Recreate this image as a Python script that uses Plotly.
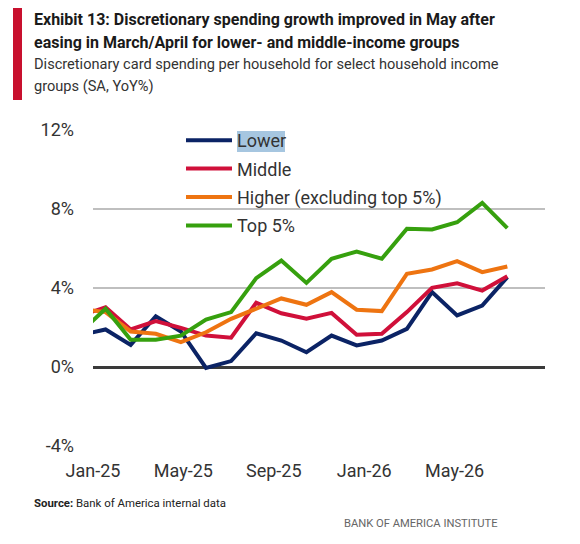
import plotly.graph_objects as go

# monthly YoY % (SA); Dec-24 is only partly visible at the left edge
months = ["Dec-24", "Jan-25", "Feb-25", "Mar-25", "Apr-25", "May-25", "Jun-25",
          "Jul-25", "Aug-25", "Sep-25", "Oct-25", "Nov-25", "Dec-25",
          "Jan-26", "Feb-26", "Mar-26", "Apr-26", "May-26"]
lower = [1.62, 1.90, 1.12, 2.57, 1.80, -0.05, 0.30, 1.71, 1.34, 0.75, 1.59,
         1.09, 1.34, 1.93, 3.79, 2.61, 3.11, 4.55]
middle = [2.59, 3.03, 1.90, 2.32, 1.98, 1.59, 1.48, 3.25, 2.72, 2.44, 2.74,
          1.63, 1.68, 2.78, 4.01, 4.24, 3.87, 4.60]
higher = [2.94, 2.78, 1.80, 1.68, 1.26, 1.76, 2.44, 2.95, 3.47, 3.15, 3.79,
          2.90, 2.83, 4.72, 4.94, 5.36, 4.80, 5.09]
top5 = [1.75, 2.95, 1.38, 1.38, 1.59, 2.40, 2.78, 4.50, 5.39, 4.26, 5.48,
        5.85, 5.48, 7.00, 6.96, 7.33, 8.31, 7.03]

series_names = ["Lower", "Middle", "Higher (excluding top 5%)", "Top 5%"]
series_colors = ["#0b2365", "#d0103a", "#ee7411", "#36a00e"]
tick_labels = ["Jan-25", "May-25", "Sep-25", "Jan-26", "May-26"]
y_ticks = [-4, 0, 4, 8, 12]

FONT = "Roboto, sans-serif"
OFF = 8  # page body margin, so figure pixels = picture pixels - 8
W, H = 572, 536
L, R, T, B = 85, 35, 122, 98
PW, PH = W - L - R, H - T - B

x = list(range(-1, len(months) - 1))


def px(xp):
    # picture x pixel -> paper fraction
    return (xp - OFF - L) / PW


def py(yp):
    # picture y pixel -> paper fraction
    return (H - B - (yp - OFF)) / PH


fig = go.Figure()
for name, vals, col in zip(series_names, [lower, middle, higher, top5], series_colors):
    fig.add_trace(go.Scatter(
        x=x, y=vals, mode="lines", name=name,
        line=dict(color=col, width=4),
        legendgroup=name,
        customdata=months,
        hovertemplate="%{customdata}: %{y:.1f}%<extra>" + name + "</extra>",
    ))

fig.update_layout(
    width=W, height=H,
    margin=dict(l=L, r=R, t=T, b=B),
    paper_bgcolor="white", plot_bgcolor="white",
    font=dict(family=FONT, size=18, color="#333333"),
    showlegend=True,
    legend=dict(
        x=px(181), y=py(122), xanchor="left", yanchor="top",
        bgcolor="rgba(0,0,0,0)", font=dict(size=18, color="#333333"),
        itemwidth=46, tracegroupgap=2,
    ),
    xaxis=dict(
        range=[-0.5, 17.5], showgrid=False, zeroline=False,
        tickmode="array",
        tickvals=[-0.5 + 3.6 * i for i in range(len(tick_labels))],
        ticktext=tick_labels, ticks="", ticklabelstandoff=12,
        tickfont=dict(size=18, color="#333333"),
    ),
    yaxis=dict(
        range=[-4, 12], tickmode="array", tickvals=y_ticks,
        ticktext=[f"{v}%" for v in y_ticks],
        showgrid=True, gridcolor="#bfbfbf", gridwidth=2,
        zeroline=True, zerolinecolor="#3a3a3a", zerolinewidth=2.5,
        ticks="", ticklabelstandoff=18,
        tickfont=dict(size=18, color="#333333"),
    ),
)

# red accent bar beside the heading
fig.add_shape(type="rect", xref="paper", yref="paper",
              x0=px(13), x1=px(22), y0=py(100), y1=py(3),
              fillcolor="#c8102e", line=dict(width=0), layer="above")

# selection highlight behind "Lower" in the legend
fig.add_shape(type="rect", xref="paper", yref="paper",
              x0=px(237), x1=px(285), y0=py(152), y1=py(131),
              fillcolor="#a6c6e0", line=dict(width=0), layer="above")

texts = [
    ("<b>Exhibit 13: Discretionary spending growth improved in May after</b>", 32, 20, 16.0, "#1a1a1a", "left"),
    ("<b>easing in March/April for lower- and middle-income groups</b>", 32, 42, 16.0, "#1a1a1a", "left"),
    ("Discretionary card spending per household for select household income", 32, 64, 14.6, "#333333", "left"),
    ("groups (SA, YoY%)", 32, 86, 14.6, "#333333", "left"),
    ("<b>Source:</b> Bank of America internal data", 32, 503, 11.4, "#222222", "left"),
    ("BANK OF AMERICA INSTITUTE", 500, 523, 11.2, "#666666", "right"),
]
for txt, xp, yp, size, col, anchor in texts:
    fig.add_annotation(text=txt, xref="paper", yref="paper", x=px(xp), y=py(yp),
                       xanchor=anchor, yanchor="middle", showarrow=False,
                       font=dict(size=size, color=col, family=FONT))

fig.write_html("out.html")
